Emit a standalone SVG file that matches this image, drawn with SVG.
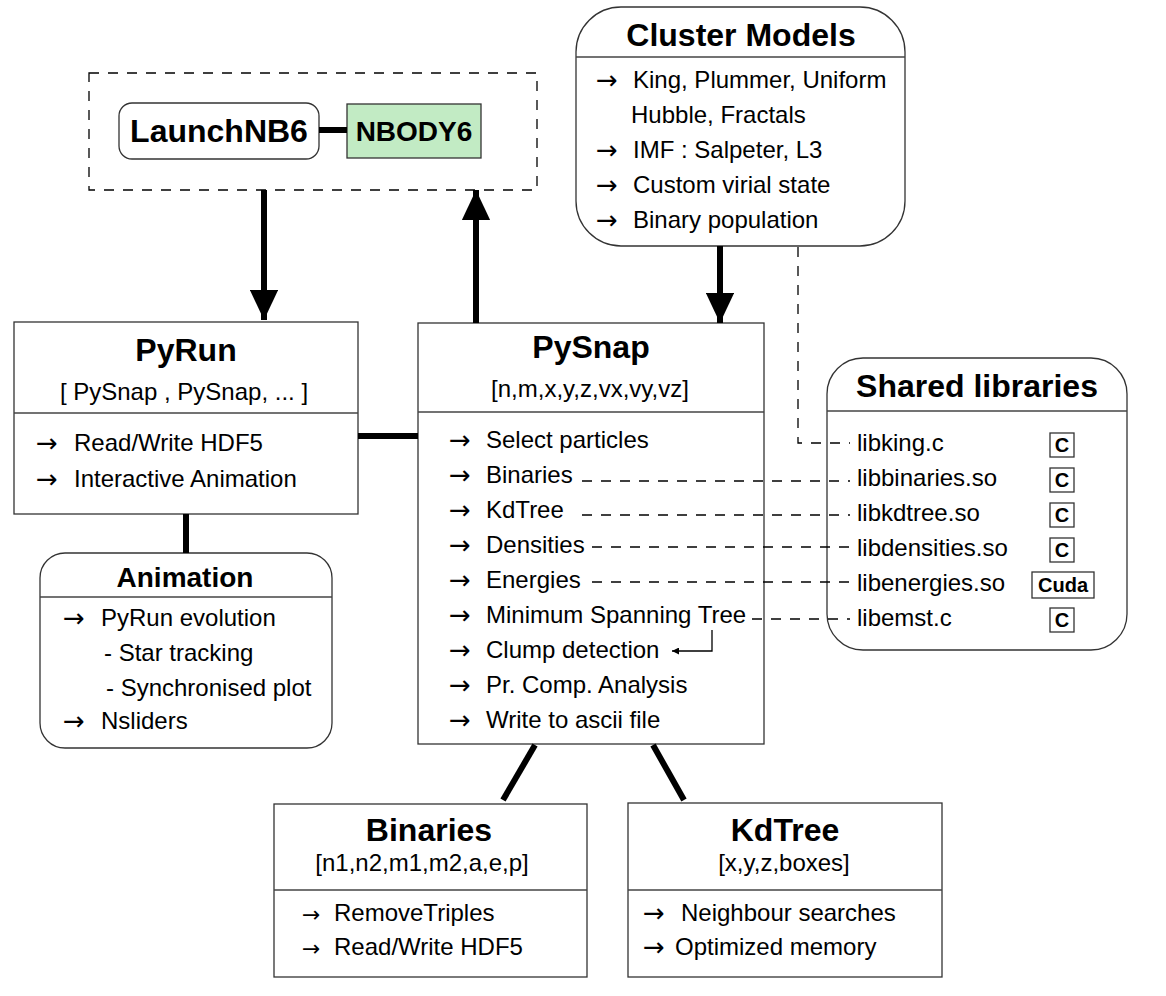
<svg xmlns="http://www.w3.org/2000/svg" width="1166" height="996" viewBox="0 0 1166 996">
<style>
.box{fill:#fff;stroke:#333;stroke-width:1.3}
.sep{stroke:#444;stroke-width:1.3}
.t{font-family:"Liberation Sans",Arial,sans-serif;font-size:24px;fill:#000}
.h{font-family:"Liberation Sans",Arial,sans-serif;font-weight:bold;font-size:32px;fill:#000;text-anchor:middle}
.ar{font-family:"DejaVu Sans",sans-serif;font-size:26px;fill:#000}
.thick{stroke:#000;stroke-width:6;fill:none}
.dash{stroke:#000;stroke-width:1.3;fill:none;stroke-dasharray:10 9}
.cb{fill:#fff;stroke:#333;stroke-width:1.3}
.ct{font-family:"Liberation Sans",Arial,sans-serif;font-weight:bold;font-size:20px;fill:#000;text-anchor:middle}
</style>
<defs>
<marker id="bigarrow" viewBox="0 0 10 10" refX="10" refY="5" markerWidth="5" markerHeight="4.7" markerUnits="strokeWidth" orient="auto" preserveAspectRatio="none">
<path d="M0,0 L10,5 L0,10 z" fill="#000"/>
</marker>
<marker id="small" viewBox="0 0 10 10" refX="10" refY="5" markerWidth="10" markerHeight="7" markerUnits="userSpaceOnUse" orient="auto">
<path d="M0,0 L10,5 L0,10 z" fill="#000"/>
</marker>
</defs>
<rect width="1166" height="996" fill="#fff"/>

<g id="launcher-group">
<rect x="89" y="73" width="448" height="117" fill="none" stroke="#000" stroke-width="1.3" stroke-dasharray="10 9"/>
</g>
<g id="launchnb6">
<rect class="box" x="119" y="103" width="200" height="56" rx="13"/>
<text class="h" x="219" y="142">LaunchNB6</text>
</g>
<g id="nbody6">
<rect x="347" y="104" width="134" height="54" fill="#c2ebc4" stroke="#333" stroke-width="1.3"/>
<text class="h" x="414" y="141" style="font-size:28px">NBODY6</text>
</g>

<g id="cluster-models">
<rect class="box" x="576" y="7" width="329" height="239" rx="45"/>
<line class="sep" x1="576" y1="57" x2="905" y2="57"/>
<text class="h" x="741" y="46">Cluster Models</text>
<text class="ar" x="596" y="89">→</text><text class="t" x="633" y="88">King, Plummer, Uniform</text>
<text class="t" x="631" y="123">Hubble, Fractals</text>
<text class="ar" x="596" y="159">→</text><text class="t" x="633" y="158">IMF : Salpeter, L3</text>
<text class="ar" x="596" y="194">→</text><text class="t" x="633" y="193">Custom virial state</text>
<text class="ar" x="596" y="229">→</text><text class="t" x="633" y="228">Binary population</text>
</g>

<g id="pyrun">
<rect class="box" x="14" y="322" width="344" height="192"/>
<line class="sep" x1="14" y1="413" x2="358" y2="413"/>
<text class="h" x="186" y="361">PyRun</text>
<text class="t" x="184" y="400" text-anchor="middle">[ PySnap , PySnap, ... ]</text>
<text class="ar" x="36" y="452">→</text><text class="t" x="74" y="451">Read/Write HDF5</text>
<text class="ar" x="36" y="488">→</text><text class="t" x="74" y="487">Interactive Animation</text>
</g>

<g id="animation">
<rect class="box" x="40" y="553" width="292" height="195" rx="25"/>
<line class="sep" x1="40" y1="597" x2="332" y2="597"/>
<text class="h" x="185" y="587" style="font-size:28px">Animation</text>
<text class="ar" x="63" y="627">→</text><text class="t" x="101" y="626">PyRun evolution</text>
<text class="t" x="104" y="661">- Star tracking</text>
<text class="t" x="106" y="696">- Synchronised plot</text>
<text class="ar" x="63" y="730">→</text><text class="t" x="101" y="729">Nsliders</text>
</g>

<g id="pysnap">
<rect class="box" x="418" y="323" width="346" height="421"/>
<line class="sep" x1="418" y1="412" x2="764" y2="412"/>
<text class="h" x="591" y="358">PySnap</text>
<text class="t" x="590" y="397" text-anchor="middle">[n,m,x,y,z,vx,vy,vz]</text>
<text class="ar" x="449" y="449">→</text><text class="t" x="486" y="448">Select particles</text>
<text class="ar" x="449" y="484">→</text><text class="t" x="486" y="483">Binaries</text>
<text class="ar" x="449" y="519">→</text><text class="t" x="486" y="518">KdTree</text>
<text class="ar" x="449" y="554">→</text><text class="t" x="486" y="553">Densities</text>
<text class="ar" x="449" y="589">→</text><text class="t" x="486" y="588">Energies</text>
<text class="ar" x="449" y="624">→</text><text class="t" x="486" y="623">Minimum Spanning Tree</text>
<text class="ar" x="449" y="659">→</text><text class="t" x="486" y="658">Clump detection</text>
<text class="ar" x="449" y="694">→</text><text class="t" x="486" y="693">Pr. Comp. Analysis</text>
<text class="ar" x="449" y="729">→</text><text class="t" x="486" y="728">Write to ascii file</text>
</g>

<g id="shared-libraries">
<rect class="box" x="827" y="358" width="300" height="292" rx="36"/>
<line class="sep" x1="827" y1="411" x2="1127" y2="411"/>
<text class="h" x="977" y="397">Shared libraries</text>
<text class="t" x="857" y="451">libking.c</text>
<text class="t" x="857" y="486">libbinaries.so</text>
<text class="t" x="857" y="521">libkdtree.so</text>
<text class="t" x="857" y="556">libdensities.so</text>
<text class="t" x="857" y="591">libenergies.so</text>
<text class="t" x="857" y="626">libemst.c</text>
<rect class="cb" x="1050" y="433" width="24" height="24"/><text class="ct" x="1062" y="452">C</text>
<rect class="cb" x="1050" y="468" width="24" height="24"/><text class="ct" x="1062" y="487">C</text>
<rect class="cb" x="1050" y="503" width="24" height="24"/><text class="ct" x="1062" y="522">C</text>
<rect class="cb" x="1050" y="538" width="24" height="24"/><text class="ct" x="1062" y="557">C</text>
<rect class="cb" x="1032" y="572" width="62" height="26"/><text class="ct" x="1063" y="592">Cuda</text>
<rect class="cb" x="1050" y="608" width="24" height="24"/><text class="ct" x="1062" y="627">C</text>
</g>

<g id="binaries">
<rect class="box" x="274" y="804" width="313" height="173"/>
<line class="sep" x1="274" y1="890" x2="587" y2="890"/>
<text class="h" x="429" y="841">Binaries</text>
<text class="t" x="422" y="871" text-anchor="middle">[n1,n2,m1,m2,a,e,p]</text>
<text class="ar" x="302" y="922" style="font-size:22px">→</text><text class="t" x="334" y="921">RemoveTriples</text>
<text class="ar" x="302" y="956" style="font-size:22px">→</text><text class="t" x="334" y="955">Read/Write HDF5</text>
</g>

<g id="kdtree">
<rect class="box" x="628" y="803" width="314" height="174"/>
<line class="sep" x1="628" y1="890" x2="942" y2="890"/>
<text class="h" x="785" y="841">KdTree</text>
<text class="t" x="784" y="871" text-anchor="middle">[x,y,z,boxes]</text>
<text class="ar" x="643" y="922">→</text><text class="t" x="681" y="921">Neighbour searches</text>
<text class="ar" x="643" y="956">→</text><text class="t" x="675" y="955">Optimized memory</text>
</g>

<g id="connectors">
<line class="thick" x1="319" y1="130" x2="347" y2="130"/>
<line class="thick" x1="264" y1="190" x2="264" y2="320" marker-end="url(#bigarrow)"/>
<line class="thick" x1="476" y1="323" x2="476" y2="190" marker-end="url(#bigarrow)"/>
<line class="thick" x1="720" y1="246" x2="720" y2="323" marker-end="url(#bigarrow)"/>
<line class="thick" x1="358" y1="436" x2="418" y2="436"/>
<line class="thick" x1="186" y1="514" x2="186" y2="553"/>
<line class="thick" x1="535" y1="745" x2="503" y2="800"/>
<line class="thick" x1="653" y1="745" x2="684" y2="800"/>
<path class="dash" d="M798,247 V443 H850"/>
<line class="dash" x1="582" y1="481" x2="850" y2="481"/>
<line class="dash" x1="582" y1="515" x2="850" y2="515"/>
<line class="dash" x1="592" y1="547" x2="850" y2="547"/>
<line class="dash" x1="592" y1="582" x2="850" y2="582"/>
<line class="dash" x1="752" y1="619" x2="850" y2="619"/>
<path d="M712,630 V651 H672" fill="none" stroke="#000" stroke-width="1.3" marker-end="url(#small)"/>
</g>
</svg>
